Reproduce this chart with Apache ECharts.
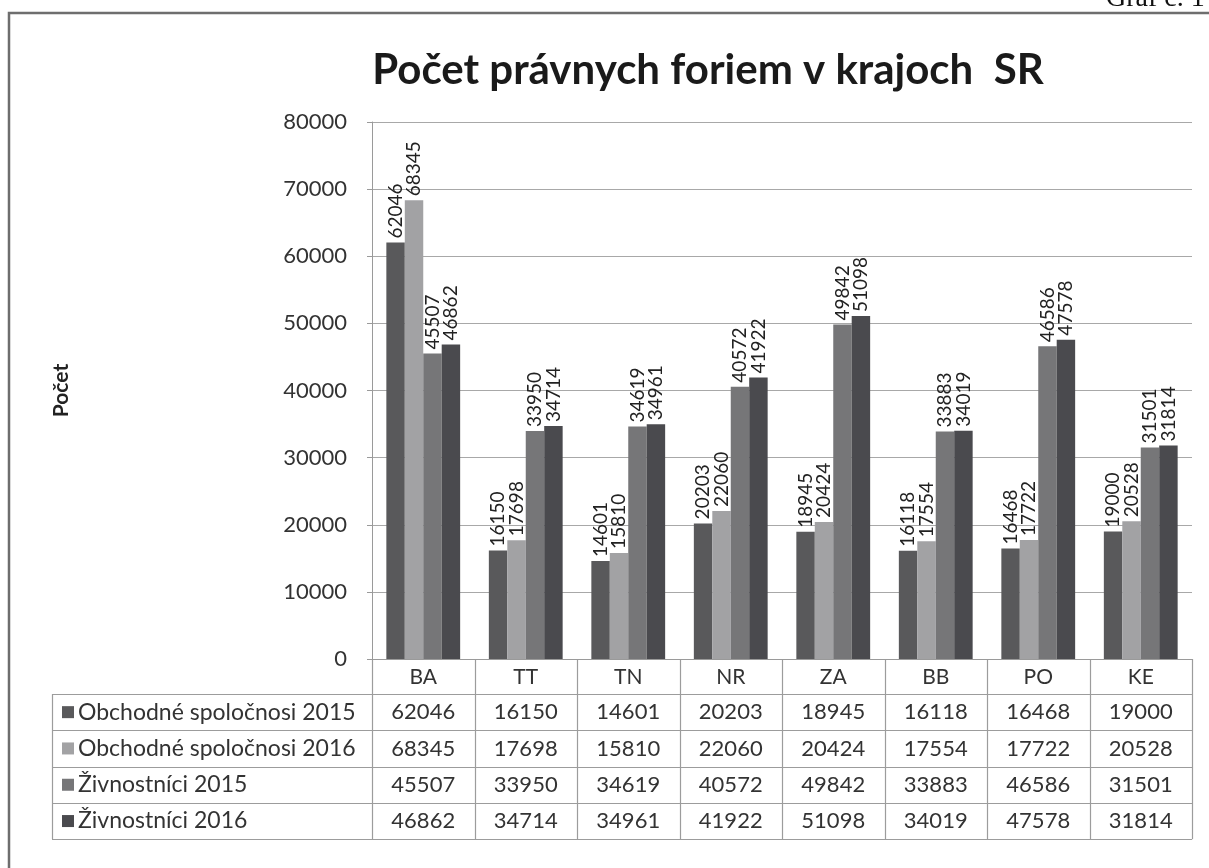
<!DOCTYPE html>
<html>
<head>
<meta charset="utf-8">
<script src="https://cdn.jsdelivr.net/npm/echarts@6/dist/echarts.min.js"></script>
<style>
html,body{margin:0;padding:0;background:#fff;}
#main{width:1209px;height:868px;}
</style>
</head>
<body>
<div id="main"></div>
<script>
const categories = ['BA', 'TT', 'TN', 'NR', 'ZA', 'BB', 'PO', 'KE'];
const seriesNames = ['Obchodné spoločnosi 2015', 'Obchodné spoločnosi 2016', 'Živnostníci 2015', 'Živnostníci 2016'];
const obch2015 = [62046, 16150, 14601, 20203, 18945, 16118, 16468, 19000];
const obch2016 = [68345, 17698, 15810, 22060, 20424, 17554, 17722, 20528];
const ziv2015 = [45507, 33950, 34619, 40572, 49842, 33883, 46586, 31501];
const ziv2016 = [46862, 34714, 34961, 41922, 51098, 34019, 47578, 31814];
const yMin = 0, yMax = 80000, yStep = 10000;
const titleText = 'Počet právnych foriem v krajoch  SR';
const yAxisName = 'Počet';
const cornerText = 'Graf č. 1';

const colors = ['#59595b', '#a2a2a4', '#767678', '#4a4a4e'];
const allSeries = [obch2015, obch2016, ziv2015, ziv2016];
const FONT = 'Lato, "Open Sans", sans-serif';

const chart = echarts.init(document.getElementById('main'), null, {renderer: 'canvas'});

const option = {
  backgroundColor: '#fff',
  animation: false,
  color: colors,
  title: {
    text: titleText,
    left: 703, top: 44, textAlign: 'center',
    textStyle: {fontFamily: FONT, fontSize: 42, fontWeight: 'bold', color: '#1a1a1a'}
  },
  grid: {left: 372, right: 17, top: 122, bottom: 209, containLabel: false},
  xAxis: {
    type: 'category', data: categories,
    axisLine: {show: true, lineStyle: {color: '#9a9a9a'}},
    axisTick: {show: false},
    axisLabel: {margin: 8, fontFamily: FONT, fontSize: 21, color: '#333'}
  },
  yAxis: {
    type: 'value', min: yMin, max: yMax, interval: yStep,
    name: yAxisName, nameLocation: 'middle', nameGap: 300, nameRotate: 90,
    nameTextStyle: {fontFamily: FONT, fontSize: 21, fontWeight: 'bold', color: '#222'},
    axisLine: {show: true, lineStyle: {color: '#9a9a9a'}},
    axisTick: {show: true, length: 5, lineStyle: {color: '#9a9a9a'}},
    axisLabel: {margin: 25, fontFamily: FONT, fontSize: 22, color: '#333', formatter: v => String(v)},
    splitLine: {show: true, lineStyle: {color: '#a8a8a8', width: 1}}
  },
  series: allSeries.map((d, i) => ({
    name: seriesNames[i], type: 'bar', data: d,
    barGap: '0%', barCategoryGap: '28%',
    itemStyle: {color: colors[i]},
    label: {
      show: true, position: 'top', rotate: 90, align: 'left', verticalAlign: 'middle',
      distance: 4, fontFamily: FONT, fontSize: 19, color: '#222'
    }
  }))
};
chart.setOption(option);

// Build the data table from the axis scale
const xs = categories.map((c, i) => chart.convertToPixel({xAxisIndex: 0}, i));
const catW = xs.length > 1 ? xs[1] - xs[0] : 100;
const yZero = chart.convertToPixel({yAxisIndex: 0}, 0);
const rowH = 36.3;
const headerBottom = yZero + 35;
const tableLeft = 52;
const plotLeft = xs[0] - catW / 2;
const plotRight = xs[xs.length - 1] + catW / 2;
const tableBottom = headerBottom + rowH * 4;
const lineStyle = {stroke: '#9c9c9c', lineWidth: 1.2};
const g = [];
for (let i = 0; i <= categories.length; i++) {
  const x = Math.round(plotLeft + i * catW) + 0.5;
  g.push({type: 'line', shape: {x1: x, y1: yZero, x2: x, y2: tableBottom}, style: lineStyle, silent: true});
}
g.push({type: 'line', shape: {x1: tableLeft + 0.5, y1: headerBottom, x2: tableLeft + 0.5, y2: tableBottom}, style: lineStyle, silent: true});
for (let r = 0; r <= 4; r++) {
  const y = Math.round(headerBottom + r * rowH) + 0.5;
  g.push({type: 'line', shape: {x1: tableLeft, y1: y, x2: plotRight, y2: y}, style: lineStyle, silent: true});
}
allSeries.forEach((d, r) => {
  const cy = headerBottom + r * rowH + rowH / 2;
  g.push({type: 'rect', shape: {x: 62, y: cy - 6, width: 12, height: 12}, style: {fill: colors[r]}, silent: true});
  g.push({type: 'text', x: 78, y: cy, style: {text: seriesNames[r], font: '23px ' + FONT, fill: '#333', textAlign: 'left', textVerticalAlign: 'middle'}, silent: true});
  d.forEach((v, i) => {
    g.push({type: 'text', x: xs[i], y: cy, style: {text: String(v), font: '22px ' + FONT, fill: '#333', textAlign: 'center', textVerticalAlign: 'middle'}, silent: true});
  });
});
g.push({type: 'rect', shape: {x: 9, y: 13, width: 1220, height: 880}, style: {fill: null, stroke: '#6e6e6e', lineWidth: 2.5}, silent: true});
g.push({type: 'text', x: 1106, y: -15, style: {text: cornerText, font: '28px "Liberation Serif", serif', fill: '#111', textAlign: 'left', textVerticalAlign: 'top'}, silent: true});

chart.setOption({graphic: g});
</script>
</body>
</html>
